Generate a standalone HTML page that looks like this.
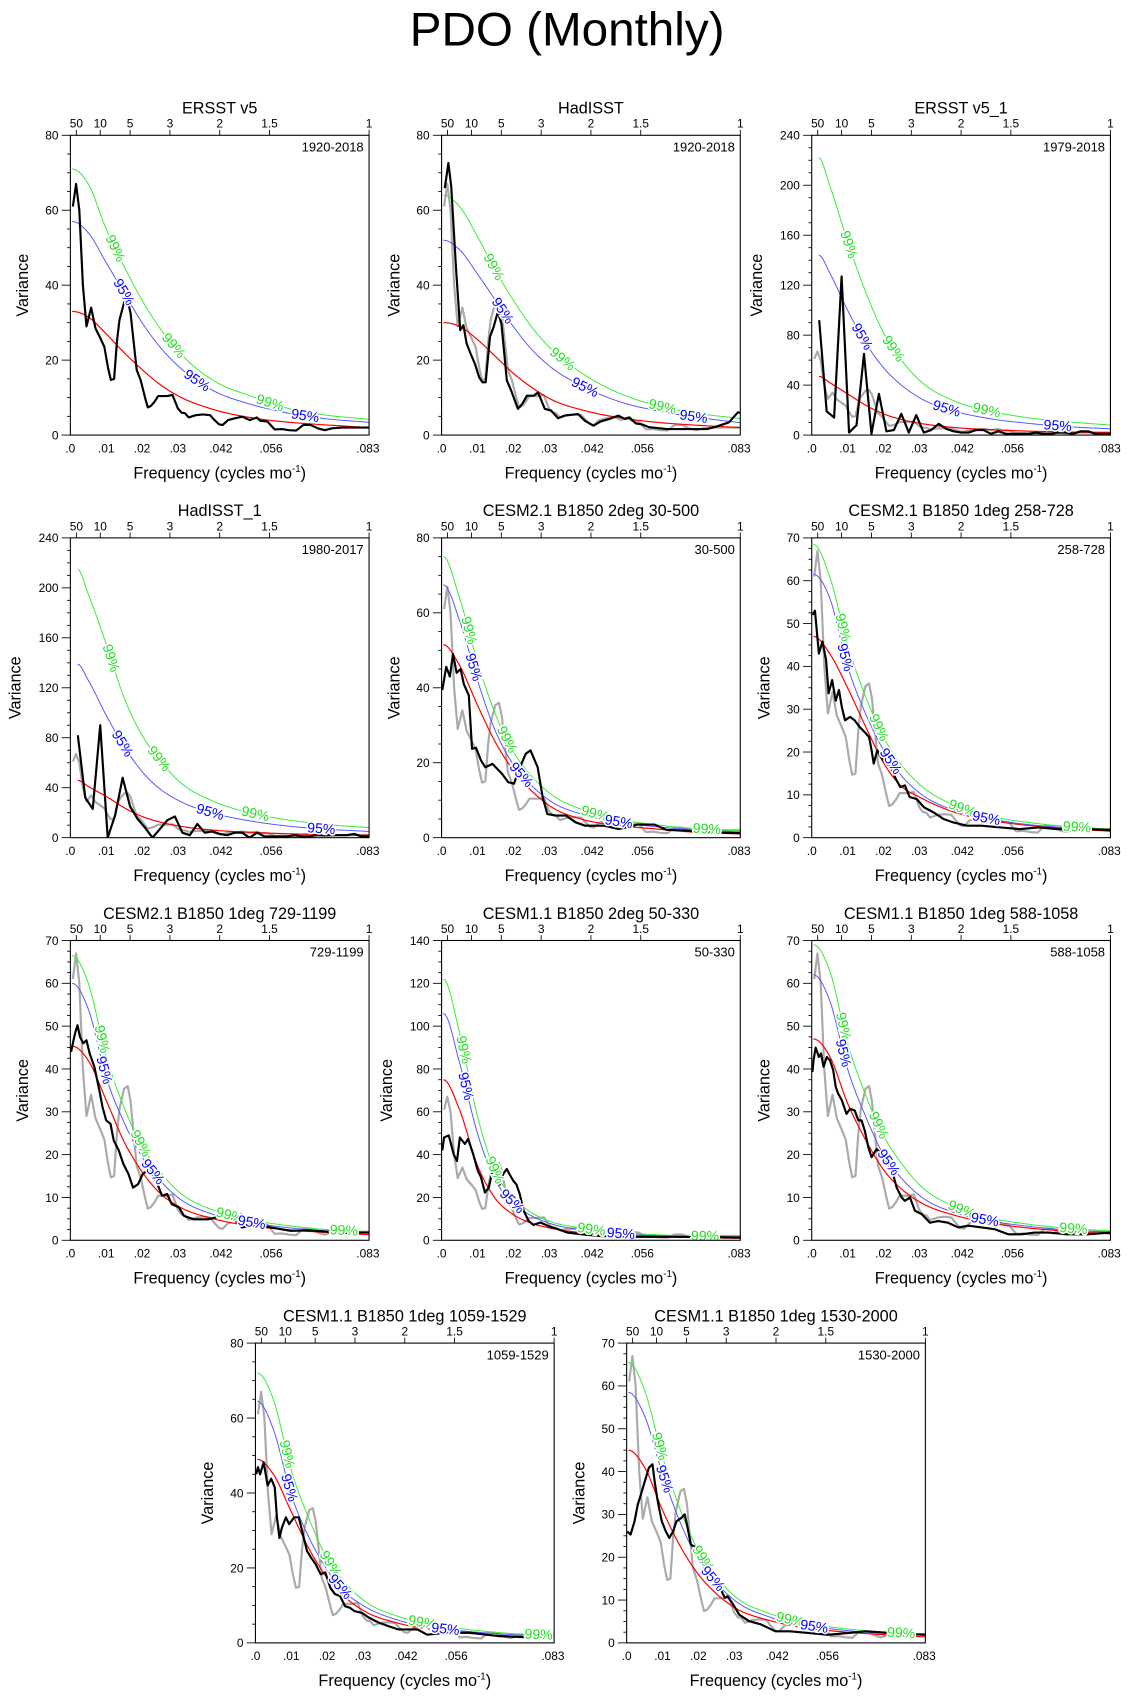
<!DOCTYPE html>
<html><head><meta charset="utf-8"><title>PDO (Monthly)</title>
<style>
html,body{margin:0;padding:0;background:#fff;}
svg{display:block;font-family:"Liberation Sans",Arial,sans-serif;}
</style></head>
<body>
<svg id="fig" xmlns="http://www.w3.org/2000/svg" width="1131" height="1697" viewBox="0 0 1045 1568" preserveAspectRatio="none">
<rect x="0" y="0" width="1045" height="1568" fill="#fff"/>
<text x="524" y="42" font-size="44" text-anchor="middle">PDO (Monthly)</text>
</svg>
<script>
// Shared frequency grid for smooth (red-noise / significance) curves
const FS = [0.0005,0.005,0.01,0.015,0.02,0.025,0.03,0.04,0.05,0.06,0.07,0.0833];
const FS34 = [0.002,0.005,0.01,0.015,0.02,0.025,0.03,0.04,0.05,0.06,0.07,0.0833];
const PERIOD_TICKS = [50,10,5,3,2,1.5,1];
const FREQ_TICKS = [0,0.01,0.02,0.03,0.042,0.056,0.083];
const FREQ_TICK_LABELS = [".0",".01",".02",".03",".042",".056",".083"];

// ERSST v5 spectrum (also grey reference in other panels)
const ERSST_F = [.0007,.0016,.0025,.0035,.0045,.0058,.007,.0083,.0095,.0105,.0113,.0122,.013,.0137,.015,.016,.0168,.0177,.0185,.0196,.021,.0216,.0225,.0235,.0245,.027,.0285,.03,.031,.032,.033,.035,.037,.039,.040,.0415,.0425,.044,.046,.048,.050,.052,.053,.055,.057,.059,.061,.063,.065,.067,.069,.071,.073,.076,.079,.0833];
const ERSST_V = [61,67,60,40,29,34,28.5,26,23.5,18,14.7,15,25,30.7,35.4,36,32.5,24.5,17.4,14.7,9.4,7.4,7.8,8.9,10.4,10.4,10.7,7.1,6.0,5.8,4.7,5.3,5.5,5.3,4.2,2.85,2.7,4.0,4.5,4.9,4.0,4.7,3.8,3.6,1.5,1.6,1.3,1.2,2.7,2.7,1.8,1.3,1.8,2.0,2.0,2.0];
const P1_RED = [33,31.5,27,22,17.5,13.5,10.5,6.8,4.7,3.5,2.8,2.0];
const P1_B95 = [57,54,46,38,30,23.5,18.5,11.8,8.3,6,4.5,3.4];
const P1_G99 = [71,67,55,45,36,28.5,22.5,14.5,10.5,7.3,5.5,4.2];

const P2_F = [.0009,.0019,.0027,.004,.0052,.0061,.007,.0081,.0093,.0105,.0114,.0123,.0135,.0145,.0157,.0167,.0182,.0194,.0213,.0225,.0238,.0257,.0269,.0288,.0306,.0325,.0343,.0381,.04,.0424,.0443,.0468,.0493,.0511,.0524,.0542,.0561,.0579,.0629,.0678,.074,.0765,.0802,.0827,.0833];
const P2_V = [65.9,72.6,66.3,44.9,28,29.3,24.4,21.7,19,15.4,14.1,14.1,26.2,28.8,32.9,29.7,14.6,11.9,7,8.3,10.5,10.5,11.4,7,6.5,4.5,5.2,5.6,3.8,2.5,3.6,4.3,5.2,4.3,4.7,3.1,2.8,2.1,1.6,1.6,1.6,2.2,3.4,6.1,5.9];
const P2_RED = [30,29,25.5,21,16.5,12.8,9.8,6.5,4.6,3.4,2.7,2.0];
const P2_B95 = [52,49.5,43,36,29,23,18.5,12.7,8.8,6.5,4.9,3.3];
const P2_G99 = [64,61,53,44,36,29,23.5,16,11,7.9,6,4.4];

const P3_V = [92,19,14,127,2,8,65,1,33,3,4,17,2,16,2,4,9,5,3,2,2,4,4,1,3,1,1,1,1,2,1,1,2,2,1,3,3,1,1,1];
const P3_RED = [47,42,33,24,17,12.5,9.5,6,4.3,3.2,2.5,2];
const P3_B95 = [144,130,100,74,54,40,30,19,13,9.5,7,5];
const P3_G99 = [222,200,155,115,82,60,44,27,19,14,11,8];

const P4_V = [82,32,23,90,0,18,48,25,15,8,0,7,14,17,4,2,11,4,5,3,2,4,4,0,4,1,1,1,1,2,1,1,2,2,2,2,2,3,1,1];
const P4_RED = [46,41,33,24,17,12.5,9.5,6,4.3,3.2,2.5,2];
const P4_B95 = [139,126,98,73,53,39,30,19.5,13.5,9.5,7,5];
const P4_G99 = [215,195,155,112,82,62,46,29,20,14.5,11,8];

const P5_F = [.0002,.0013,.0023,.0032,.0042,.0053,.0062,.0076,.0085,.0096,.011,.0122,.0142,.0155,.0169,.0186,.0202,.0215,.0235,.0248,.0268,.0282,.0295,.032,.0347,.0374,.040,.0454,.0494,.0547,.0594,.0627,.068,.076,.0833];
const P5_V = [39.4,45.6,43,49,44,45,41,38,23.7,24,20.6,18.8,19.7,18.4,17,14.8,14.4,18,22.4,23.3,18.8,10.8,6.3,5.9,5.9,4.1,3.2,3.2,2.3,3.5,3.5,2.1,1.9,1.4,1.2];
const P5_RED = [51.5,46,35.4,25.5,18,12.6,8.6,4.7,3.2,2.3,1.5,1.0];
const P5_B95 = [67.5,58,42,28.5,19.5,14,10,6,4.1,2.9,2.2,1.5];
const P5_G99 = [75,64,47,33,23,16.5,12,7.2,4.8,3.4,2.5,1.8];

const P6_F = [.0002,.0009,.002,.003,.004,.0047,.0057,.0067,.0076,.0084,.0093,.0107,.012,.0133,.0147,.016,.0167,.0173,.0183,.02,.022,.0233,.0247,.026,.0273,.0293,.0313,.034,.0367,.0393,.0433,.0473,.0527,.058,.0633,.0687,.0767,.0833];
const P6_V = [52,53,43,45.8,41.5,33.7,36.8,32,34.5,30.5,27.4,28.2,27.4,25.9,24.7,23.5,20.4,17.3,20.4,18,16.5,14,11.8,12.2,9.5,9,7.1,5.9,4.4,3.6,2.8,2.8,2.4,2.0,2.4,2,2,1.8];
const P6_RED = [47,43,35,26,17.5,12,9.5,5.9,4,2.9,2.2,1.5];
const P6_B95 = [61.5,56,40,29,20.5,14.5,10.5,6.3,4.3,3.1,2.4,1.8];
const P6_G99 = [68.5,61,45,33,23.5,17,12.5,7.5,5,3.6,2.7,2.0];

const P7_F = [.0002,.0007,.0013,.002,.0027,.0036,.0045,.0054,.0067,.0081,.009,.01,.0112,.0121,.0135,.0148,.0162,.0175,.0189,.0202,.0216,.023,.0243,.0256,.027,.0283,.0303,.0317,.0344,.0384,.0425,.0452,.0479,.052,.056,.0614,.0668,.075,.0833];
const P7_V = [44,46,48.3,50.2,47.5,46,46.7,43.6,40.5,35,31,28,27.2,23.3,21,17.8,15.5,12.3,13.1,15.5,16.3,15.5,13.1,10.4,10.8,8.4,7.7,5.7,4.9,4.9,5.7,5.3,3,3.6,3,2.2,2.3,1.8,1.8];
const P7_RED = [45.3,42,32.7,23,16,11,8,5,3.4,2.5,1.9,1.3];
const P7_B95 = [60,54,38,27.5,19.5,14,10,6,4.2,3,2.3,1.8];
const P7_G99 = [66.5,60,43,31,22,16,11.5,7,4.8,3.5,2.6,2.0];

const P8_F = [.0002,.0007,.002,.0034,.0043,.0051,.0065,.0074,.0088,.0101,.011,.0121,.0132,.0142,.0155,.0162,.0172,.0182,.0189,.02,.0209,.0218,.0229,.0243,.0256,.0276,.0297,.0324,.0351,.0391,.0445,.0526,.066,.0833];
const P8_V = [42,48,49,40,37,48,45,47.3,40.3,32.5,29.4,22.3,24.7,32.5,31,26,31,33.3,31,27.8,26,21.6,13.8,9,7.2,8.3,6.7,5.2,3.6,2.8,2,1.6,1.6,1.3];
const P8_RED = [75,61,35,19.5,12,8,5.8,3.4,2.3,1.7,1.3,0.9];
const P8_B95 = [106,83,50,28,17.5,11.5,8,4.6,3,2.2,1.7,1.3];
const P8_G99 = [122,97,58,32,20,13,9,5.5,3.6,2.6,2,1.6];

const P9_F = [.0002,.0005,.0011,.002,.0026,.0033,.0042,.0051,.006,.0067,.0074,.0084,.0097,.0107,.012,.013,.0139,.0148,.0158,.0167,.0181,.0195,.0209,.0223,.0237,.0251,.026,.0274,.0288,.0307,.033,.0353,.038,.0409,.0437,.0474,.051,.0548,.0585,.0622,.066,.0715,.077,.0833];
const P9_V = [39.3,42,45,42.8,43.6,40.5,42.8,42,39.7,35.8,34.2,32.7,29.5,30.7,30.3,28,28,25.6,21.7,19.4,21.3,20.2,18.2,16.6,12.3,10,9.2,10,6.9,6.1,4.1,4.5,4.1,3,3.4,3,2.6,1.4,1.4,1.8,1.8,1.4,1.4,1.8];
const P9_RED = [47,43,32,23.5,16.5,12,9,5.8,4,2.9,2.2,1.5];
const P9_B95 = [62,56,40,29,20,14.5,10.5,6.4,4.5,3.3,2.5,1.9];
const P9_G99 = [69,63,46,34,24.5,18,13,7.8,5.2,3.8,2.9,2.2];

const P10_F = [.0002,.0007,.0013,.0023,.0034,.0044,.0054,.006,.0067,.0074,.0085,.0094,.0108,.0121,.0135,.0144,.0155,.0168,.0182,.0195,.0209,.0222,.0236,.025,.0263,.0276,.0297,.0317,.0344,.037,.0398,.0425,.0452,.0479,.053,.06,.068,.076,.0833];
const P10_V = [45,46.9,45,48.2,42,43.8,41.5,33.5,28,30.8,33.5,31.7,33.5,33.5,28,24.5,22.8,21,18.3,18.8,14.7,13,12.5,9.8,9.4,8.5,8,6.7,5.4,4.5,3.6,3.6,3.6,2.2,2.7,2.7,1.8,1.5,2.2];
const P10_RED = [49,45,35,25,17.4,12.2,8.7,5.2,3.5,2.5,1.9,1.3];
const P10_B95 = [64.5,57,39.5,28,19.5,13.5,10,6,4,3,2.3,1.8];
const P10_G99 = [72,65,46,33,22.5,16,11.5,7,4.8,3.5,2.6,2.0];

const P11_F = [.0002,.0011,.0022,.0031,.004,.0051,.0062,.0072,.0078,.0085,.0092,.0098,.0109,.0119,.013,.0139,.0153,.0162,.017,.0179,.0193,.0206,.022,.0233,.0247,.026,.0274,.0281,.0294,.0314,.0341,.0375,.0415,.0456,.051,.0563,.0617,.067,.0738,.0833];
const P11_V = [26,25.3,28.4,32.3,34.7,37.8,40.9,41.7,37.8,33.9,30.8,28.4,26.1,24.5,26.1,28.4,29.2,30,26.9,23,22.2,20.7,16.8,16,15.2,12.9,10.5,10.9,9.4,6.6,5.1,4.3,2.7,2.7,2.3,1.9,2.3,2.7,2.3,1.9];
const P11_RED = [45,41,31,22.5,16,11.5,8.3,5.2,3.5,2.6,2,1.4];
const P11_B95 = [58.5,53,39.5,28,19.5,14,10,6,4.1,3,2.3,1.8];
const P11_G99 = [65.5,59,43.5,31,21.5,15.5,11,6.8,4.6,3.4,2.6,2.0];

// panel 3/4 discrete frequencies (1/480 cycles per month spacing)
const P34_STEP = 1/480;

const SVGNS = "http://www.w3.org/2000/svg";
const svg = document.getElementById("fig");
const FMAX = 1/12;

function mk(tag, attrs, parent){
  const e = document.createElementNS(SVGNS, tag);
  for (const k in attrs) e.setAttribute(k, attrs[k]);
  (parent||svg).appendChild(e);
  return e;
}

// Cubic Hermite through points with interval-weighted slopes; flat at the low-frequency end
function smoothInterp(xs, ys){
  const n = xs.length, d = [], h = [], m = new Array(n);
  for (let i=0;i<n-1;i++){ h.push(xs[i+1]-xs[i]); d.push((ys[i+1]-ys[i])/h[i]); }
  m[0]=0; m[n-1]=d[n-2];
  for (let i=1;i<n-1;i++) m[i] = (d[i-1]*h[i] + d[i]*h[i-1])/(h[i-1]+h[i]);
  return function(x){
    let i=0; while(i<n-2 && x>xs[i+1]) i++;
    const hh=h[i], t=Math.max(0,Math.min(1,(x-xs[i])/hh));
    const t2=t*t,t3=t2*t;
    return (2*t3-3*t2+1)*ys[i]+(t3-2*t2+t)*hh*m[i]+(-2*t3+3*t2)*ys[i+1]+(t3-t2)*hh*m[i+1];
  };
}

const PANELS = [
 {id:1,title:"ERSST v5",period:"1920-2018",x:65,y:125,ymax:80,step:20,f:ERSST_F,v:ERSST_V,grey:false,grid:FS,red:P1_RED,b:P1_B95,g:P1_G99,gl:[.0125,.0288,.0557],bl:[.0149,.0353,.0655]},
 {id:2,title:"HadISST",period:"1920-2018",x:408,y:125,ymax:80,step:20,f:P2_F,v:P2_V,grey:true,grid:FS,red:P2_RED,b:P2_B95,g:P2_G99,gl:[.0145,.0337,.0616],bl:[.017,.04,.0703]},
 {id:3,title:"ERSST v5_1",period:"1979-2018",x:750,y:125,ymax:240,step:40,f:null,v:P3_V,grey:true,grid:FS34,red:P3_RED,b:P3_B95,g:P3_G99,gl:[.0103,.0227,.0488],bl:[.014,.0376,.0686]},
 {id:4,title:"HadISST_1",period:"1980-2017",x:65,y:497,ymax:240,step:40,f:null,v:P4_V,grey:true,grid:FS34,red:P4_RED,b:P4_B95,g:P4_G99,gl:[.0113,.0247,.0516],bl:[.0145,.039,.070]},
 {id:5,title:"CESM2.1 B1850 2deg 30-500",period:"30-500",x:408,y:497,ymax:80,step:20,f:P5_F,v:P5_V,grey:true,grid:FS,red:P5_RED,b:P5_B95,g:P5_G99,gl:[.0076,.0182,.0428,.074],bl:[.0089,.0222,.0494]},
 {id:6,title:"CESM2.1 B1850 1deg 258-728",period:"258-728",x:750,y:497,ymax:70,step:10,f:P6_F,v:P6_V,grey:true,grid:FS,red:P6_RED,b:P6_B95,g:P6_G99,gl:[.0087,.0187,.042,.074],bl:[.0093,.022,.0487]},
 {id:7,title:"CESM2.1 B1850 1deg 729-1199",period:"729-1199",x:65,y:869,ymax:70,step:10,f:P7_F,v:P7_V,grey:true,grid:FS,red:P7_RED,b:P7_B95,g:P7_G99,gl:[.0088,.0196,.0445,.0763],bl:[.0094,.023,.0506]},
 {id:8,title:"CESM1.1 B1850 2deg 50-330",period:"50-330",x:408,y:869,ymax:140,step:20,f:P8_F,v:P8_V,grey:true,grid:FS,red:P8_RED,b:P8_B95,g:P8_G99,gl:[.0061,.0148,.0418,.0735],bl:[.0067,.0196,.05]},
 {id:9,title:"CESM1.1 B1850 1deg 588-1058",period:"588-1058",x:750,y:869,ymax:70,step:10,f:P9_F,v:P9_V,grey:true,grid:FS,red:P9_RED,b:P9_B95,g:P9_G99,gl:[.0088,.0186,.0418,.073],bl:[.0088,.0214,.0483]},
 {id:10,title:"CESM1.1 B1850 1deg 1059-1529",period:"1059-1529",x:236,y:1241,ymax:80,step:20,f:P10_F,v:P10_V,grey:true,grid:FS,red:P10_RED,b:P10_B95,g:P10_G99,gl:[.0088,.0209,.0465,.079],bl:[.0094,.0236,.053]},
 {id:11,title:"CESM1.1 B1850 1deg 1530-2000",period:"1530-2000",x:579,y:1241,ymax:70,step:10,f:P11_F,v:P11_V,grey:true,grid:FS,red:P11_RED,b:P11_B95,g:P11_G99,gl:[.0092,.0213,.0456,.0766],bl:[.0105,.024,.0523]}
];
const W = 276, H = 277;

PANELS.forEach(p => {
  const g = mk("g", {});
  
  
  const x0=p.x, y0=p.y;
  const xs = f => x0 + f/FMAX*W;
  const ys = v => y0 + H - v/p.ymax*H;
  const clipId = "clip"+p.id;
  const cp = mk("clipPath",{id:clipId},g);
  mk("rect",{x:x0,y:y0,width:W,height:H},cp);

  const t = mk("text",{x:x0+W/2,y:y0-20,"font-size":15,"text-anchor":"middle"},g);
  t.textContent = p.title;
  
  

  const lines = mk("g",{"clip-path":"url(#"+clipId+")"},g);
  function polyline(fs, vs, color, width, name){
    const pts = fs.map((f,i)=>xs(f).toFixed(2)+","+ys(vs[i]).toFixed(2)).join(" ");
    const pl = mk("polyline",{points:pts,fill:"none",stroke:color,"stroke-width":width,"stroke-linejoin":"round"},lines);
    
    
    return pl;
  }
  function smooth(grid, vals, color, width, name){
    const fn = smoothInterp(grid, vals);
    const fs=[], vs=[];
    for (let i=0;i<=160;i++){ const f = grid[0]+(grid[grid.length-1]-grid[0])*i/160; fs.push(f); vs.push(fn(f)); }
    return polyline(fs, vs, color, width, name);
  }
  if (p.grey) polyline(ERSST_F, ERSST_V, "#aaaaaa", 2, "ersst-reference-line");
  smooth(p.grid, p.red, "#ff0000", 1.1, "red-noise-curve");
  smooth(p.grid, p.b, "#5555ff", 0.9, "confidence-95-curve");
  smooth(p.grid, p.g, "#33ee33", 0.9, "confidence-99-curve");
  const bf = p.f ? p.f : p.v.map((_,i)=>(i+1)*P34_STEP);
  polyline(bf, p.v, "#000000", 2, "spectrum-line");

  function labels(grid, vals, freqs, txt, color){
    const fn = smoothInterp(grid, vals);
    freqs.forEach(f=>{
      const px = xs(f), py = ys(fn(f));
      const dx = xs(f+0.001)-xs(f-0.001), dy = ys(fn(f+0.001))-ys(fn(f-0.001));
      const ang = Math.atan2(dy,dx)*180/Math.PI;
      const tx = mk("text",{x:px,y:py+4,"font-size":13,"text-anchor":"middle",fill:color,stroke:"#fff","stroke-width":3,"paint-order":"stroke",transform:"rotate("+ang.toFixed(1)+" "+px.toFixed(1)+" "+py.toFixed(1)+")"},lines);
      tx.textContent = txt;
      
      
    });
  }
  labels(p.grid, p.g, p.gl, "99%", "#22dd22");
  labels(p.grid, p.b, p.bl, "95%", "#0000ff");

  const fr = mk("rect",{x:x0,y:y0,width:W,height:H,fill:"none",stroke:"#000","stroke-width":1},g);
  
  

  for (let v=0; v<=p.ymax+1e-9; v+=p.step/4){
    const major = Math.abs(v/p.step - Math.round(v/p.step))<1e-6;
    mk("line",{x1:x0-(major?8:3),x2:x0,y1:ys(v),y2:ys(v),stroke:"#000","stroke-width":0.8},g);
    if (major){
      const yl = mk("text",{x:x0-11,y:ys(v)+4,"font-size":11,"text-anchor":"end"},g);
      yl.textContent = String(Math.round(v));
      
      
    }
  }
  FREQ_TICKS.forEach((f,i)=>{
    const bl = mk("text",{x:xs(f),y:y0+H+16,"font-size":11,"text-anchor":"middle"},g);
    bl.textContent = FREQ_TICK_LABELS[i];
    
    
  });
  PERIOD_TICKS.forEach(per=>{
    const f = 1/(12*per);
    mk("line",{x1:xs(f),x2:xs(f),y1:y0,y2:y0-5,stroke:"#000","stroke-width":0.8},g);
    const tl = mk("text",{x:xs(f),y:y0-7,"font-size":11,"text-anchor":"middle"},g);
    tl.textContent = String(per);
    
    
  });
  const pt = mk("text",{x:x0+W-5,y:y0+15,"font-size":12,"text-anchor":"end"},g);
  pt.textContent = p.period;
  
  
  const xt = mk("text",{x:x0+W/2,y:y0+H+40,"font-size":15,"text-anchor":"middle"},g);
  xt.innerHTML = 'Frequency (cycles mo<tspan dy="-6" font-size="9">-1</tspan><tspan dy="6">)</tspan>';
  
  
  const yx = x0 - (p.ymax>=100 ? 46 : 39);
  const yt = mk("text",{x:yx,y:y0+H/2,"font-size":15,"text-anchor":"middle",transform:"rotate(-90 "+yx+" "+(y0+H/2)+")"},g);
  yt.textContent = "Variance";
  
  
});
</script>
</body></html>
